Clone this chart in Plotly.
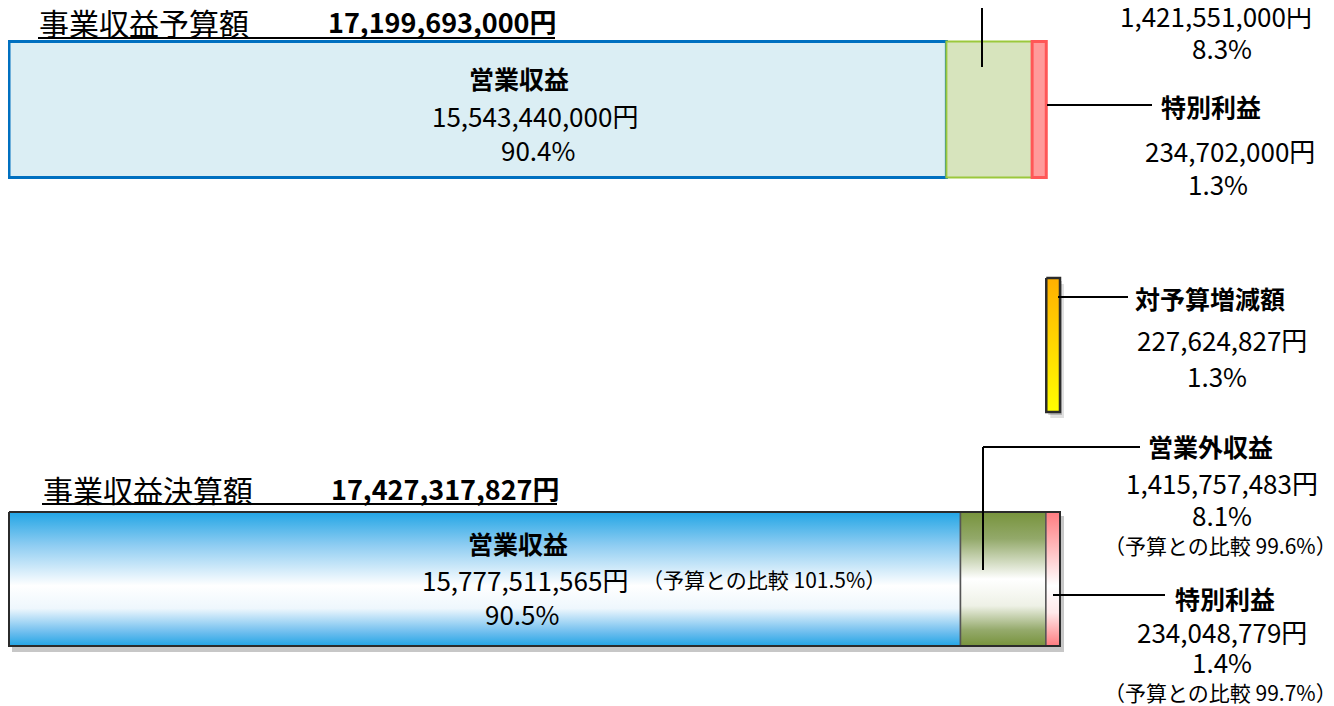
import plotly.graph_objects as go

# ---- data -------------------------------------------------------------
categories = ["営業収益", "営業外収益", "特別利益"]
budget_values = [15543440000, 1421551000, 234702000]
actual_values = [15777511565, 1415757483, 234048779]
budget_pct = ["90.4%", "8.3%", "1.3%"]
actual_pct = ["90.5%", "8.1%", "1.4%"]
ratio_to_budget = ["101.5%", "99.6%", "99.7%"]
budget_total = 17199693000
actual_total = 17427317827
diff_value = 227624827
diff_pct = "1.3%"

# page has an 8px body margin, so the figure sits at (8, 8) on screen
OFF = 8
W, H = 1334 - OFF, 706 - OFF
FONT = "Noto Sans CJK JP"

# horizontal scale: x axis in yen; bars from screen px 9 to 1060
X0 = 9
scale = (1060 - X0) / actual_total          # px per yen
x_range = [-(X0 - OFF) / scale, (1334 - X0) / scale]

fig = go.Figure()

# ---- budget bar (solid fills) ----------------------------------------
top_fill = ["#dbeef4", "#d7e4bd", "#ff9b9b"]
top_line = ["#0070c0", "#9bc83c", "#ff5757"]
top_lw = [3, 2, 3]
start = 0
for name, v, fc, lc, lw in zip(categories, budget_values, top_fill, top_line, top_lw):
    fig.add_trace(go.Bar(
        x=[v], base=[start], y=[109.5], width=[136], orientation="h",
        marker=dict(color=fc, line=dict(color=lc, width=lw)),
        name=name, showlegend=False, hoverinfo="skip"
    ))
    start += v


def rect(x0, x1, y0, y1):
    return [x0, x1, x1, x0, x0], [y0, y0, y1, y1, y0]


def flip(cs):
    # fillgradient runs bottom->top on screen; list colours top->bottom
    return [[1 - p, c] for p, c in reversed(cs)]


def grad_box(x0, x1, y0, y1, colorscale, line_color="#3a3a3a", lw=1.5, shadow=True):
    if shadow:
        for dx, dy, a in [(2, 3, 0.18), (4, 6, 0.12)]:
            xs, ys = rect(x0 + dx / scale, x1 + dx / scale, y0 + dy, y1 + dy)
            fig.add_trace(go.Scatter(
                x=xs, y=ys, fill="toself", mode="lines",
                fillcolor=f"rgba(0,0,0,{a})", line=dict(width=0),
                showlegend=False, hoverinfo="skip"
            ))
    xs, ys = rect(x0, x1, y0, y1)
    fig.add_trace(go.Scatter(
        x=xs, y=ys, fill="toself", mode="lines",
        fillgradient=dict(type="vertical", colorscale=flip(colorscale)),
        line=dict(color=line_color, width=lw),
        showlegend=False, hoverinfo="skip"
    ))


# ---- actual bar (gradient fills), colours listed top -> bottom --------
blue = [[0, "#22a5e5"], [0.25, "#8fcdf2"], [0.55, "#ffffff"], [0.72, "#eef7fd"],
        [0.9, "#6cbdee"], [1, "#22a5e5"]]
green = [[0, "#77933c"], [0.2, "#93a96a"], [0.5, "#ffffff"], [0.7, "#eef1e6"],
         [0.88, "#95aa6c"], [1, "#77933c"]]
pink = [[0, "#ff7c80"], [0.25, "#ffb6b8"], [0.55, "#ffffff"], [0.75, "#ffe9ea"],
        [1, "#ff7c80"]]
grads = [blue, green, pink]

y0, y1 = 512, 646
xs, ys = rect(0 + 3 / scale, actual_total + 4 / scale, y0 + 4, y1 + 6)
fig.add_trace(go.Scatter(x=xs, y=ys, fill="toself", mode="lines",
                         fillcolor="rgba(0,0,0,0.22)", line=dict(width=0),
                         showlegend=False, hoverinfo="skip"))
start = 0
for v, g in zip(actual_values, grads):
    grad_box(start, start + v, y0, y1, g, line_color="#555555", lw=1.5, shadow=False)
    start += v
xs, ys = rect(0, actual_total, y0, y1)
fig.add_trace(go.Scatter(x=xs, y=ys, mode="lines", line=dict(color="#2b2b2b", width=2),
                         showlegend=False, hoverinfo="skip"))

# ---- difference bar ---------------------------------------------------
yellow = [[0, "#ffb000"], [1, "#ffff00"]]
grad_box(budget_total, budget_total + diff_value, 278, 412, yellow,
         line_color="#2b2b2b", lw=2.5, shadow=True)

# ---- texts (screen pixel positions) -----------------------------------
ann = []


def txt(x, y, s, size, bold=False, anchor="center"):
    ann.append(dict(
        x=(x - OFF) / W, y=1 - (y - OFF) / H, xref="paper", yref="paper",
        text=f"<b>{s}</b>" if bold else s, showarrow=False,
        xanchor=anchor, yanchor="middle",
        font=dict(family=FONT, size=size, color="black")
    ))


def yen(v):
    return f"{v:,}円"


def cmp(r):
    return f"（予算との比較 {r}）"


# titles
txt(37, 22, "事業収益予算額", 30, anchor="left")
txt(326, 22, yen(budget_total), 27, bold=True, anchor="left")
txt(41, 489, "事業収益決算額", 30, anchor="left")
txt(329, 489, yen(actual_total), 27, bold=True, anchor="left")

# budget bar labels
txt(519, 78, categories[0], 25, bold=True)
txt(535, 115, yen(budget_values[0]), 26)
txt(538, 149, budget_pct[0], 26)
txt(1216, 16, yen(budget_values[1]), 26)
txt(1222, 47, budget_pct[1], 26)
txt(1211, 106, categories[2], 25, bold=True)
txt(1230, 150, yen(budget_values[2]), 26)
txt(1218, 183, budget_pct[2], 26)

# difference labels
txt(1210, 298, "対予算増減額", 25, bold=True)
txt(1222, 339, yen(diff_value), 26)
txt(1217, 376, diff_pct, 26)

# actual bar labels
txt(518, 543, categories[0], 25, bold=True)
txt(525, 579, yen(actual_values[0]), 26)
txt(640, 579, cmp(ratio_to_budget[0]), 21, anchor="left")
txt(522, 613, actual_pct[0], 26)
txt(1210, 446, categories[1], 25, bold=True)
txt(1222, 482, yen(actual_values[1]), 26)
txt(1222, 514, actual_pct[1], 26)
txt(1220, 545, cmp(ratio_to_budget[1]), 21)
txt(1225, 598, categories[2], 25, bold=True)
txt(1222, 631, yen(actual_values[2]), 26)
txt(1222, 661, actual_pct[2], 26)
txt(1220, 692, cmp(ratio_to_budget[2]), 21)

# ---- underlines and leader lines (screen pixel positions) ------------
shapes = []


def seg(xa, ya, xb, yb, w=2):
    shapes.append(dict(type="line", xref="paper", yref="paper",
                       x0=(xa - OFF) / W, y0=1 - (ya - OFF) / H,
                       x1=(xb - OFF) / W, y1=1 - (yb - OFF) / H,
                       line=dict(color="black", width=w)))


seg(38, 38, 555, 38)
seg(42, 504, 557, 504)
seg(982, OFF, 982, 67)
seg(1047, 105, 1152, 105)
seg(1058, 297, 1128, 297)
seg(983, 570, 983, 447)
seg(983, 447, 1140, 447)
seg(1053, 595, 1165, 595)

fig.update_layout(
    width=W, height=H,
    margin=dict(l=0, r=0, t=0, b=0),
    paper_bgcolor="white", plot_bgcolor="white",
    barmode="overlay",
    xaxis=dict(range=x_range, visible=False, fixedrange=True),
    yaxis=dict(range=[706, OFF], visible=False, fixedrange=True),
    annotations=ann, shapes=shapes,
    showlegend=False
)

fig.write_html("out.html")
